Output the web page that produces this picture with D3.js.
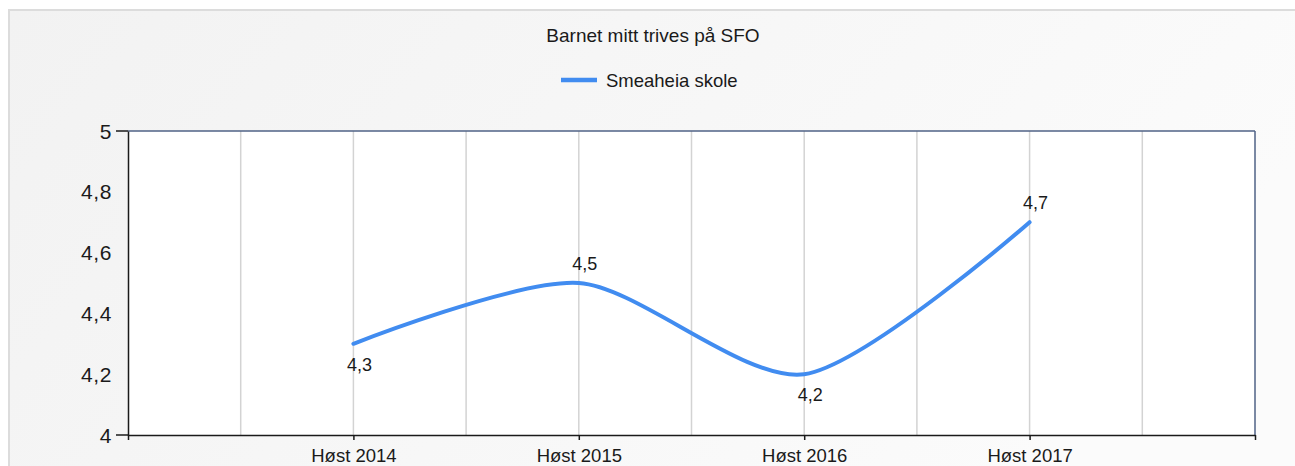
<!DOCTYPE html>
<html>
<head>
<meta charset="utf-8">
<script src="https://cdn.jsdelivr.net/npm/d3@7"></script>
<style>
  html, body { margin: 0; padding: 0; background: #ffffff; }
  svg { display: block; font-family: "Liberation Sans", Arial, sans-serif; }
</style>
</head>
<body>
<svg id="chart" width="1295" height="466"></svg>
<script>
const title = "Barnet mitt trives på SFO";
const seriesName = "Smeaheia skole";
const categories = ["Høst 2014", "Høst 2015", "Høst 2016", "Høst 2017"];
const values = [4.3, 4.5, 4.2, 4.7];
const yTicks = [4, 4.2, 4.4, 4.6, 4.8, 5];
const yMajorTicks = [4, 5];

const W = 1295, H = 466;
const plot = { left: 128, right: 1255, top: 131, bottom: 435 };
const lineColor = "#418cf0";
const fmt = v => d3.format(".1f")(v).replace(".", ",").replace(/,0$/, "");

const svg = d3.select("#chart");
const defs = svg.append("defs");
const grad = defs.append("linearGradient").attr("id", "bg")
  .attr("x1", "0%").attr("y1", "0%").attr("x2", "100%").attr("y2", "30%");
grad.append("stop").attr("offset", "0%").attr("stop-color", "#f2f2f2");
grad.append("stop").attr("offset", "100%").attr("stop-color", "#fbfbfb");

// panel
svg.append("rect").attr("x", 9).attr("y", 10).attr("width", W).attr("height", H)
  .attr("fill", "url(#bg)").attr("stroke", "#dcdcdc").attr("stroke-width", 2);

// scales
const x = d3.scaleLinear().domain([0, categories.length + 1]).range([plot.left, plot.right]);
const y = d3.scaleLinear().domain([4, 5]).range([plot.bottom, plot.top]);

// plot background
svg.append("rect").attr("x", plot.left).attr("y", plot.top)
  .attr("width", plot.right - plot.left).attr("height", plot.bottom - plot.top)
  .attr("fill", "#ffffff");

// vertical gridlines at half steps
const gridPos = d3.range(0.5, categories.length + 1, 0.5);
svg.append("g").selectAll("line").data(gridPos).join("line")
  .attr("x1", d => x(d)).attr("x2", d => x(d))
  .attr("y1", plot.top).attr("y2", plot.bottom)
  .attr("stroke", "#d3d3d3").attr("stroke-width", 1.5);

// top & right borders
svg.append("line").attr("x1", plot.left).attr("x2", plot.right)
  .attr("y1", plot.top).attr("y2", plot.top)
  .attr("stroke", "#4f6286").attr("stroke-width", 1.5);
svg.append("line").attr("x1", plot.right).attr("x2", plot.right)
  .attr("y1", plot.top).attr("y2", plot.bottom)
  .attr("stroke", "#4f6286").attr("stroke-width", 1.5);

// x axis
const xAxis = d3.axisBottom(x)
  .tickValues(d3.range(0, categories.length + 2))
  .tickFormat(d => (d >= 1 && d <= categories.length) ? categories[d - 1] : "")
  .tickSize(5).tickSizeOuter(0);
const gx = svg.append("g").attr("transform", `translate(0,${plot.bottom})`).call(xAxis);
gx.select(".domain").attr("stroke", "#1a1a1a").attr("stroke-width", 1.5);
gx.selectAll(".tick line").attr("stroke", "#1a1a1a").attr("stroke-width", 1.5);
gx.selectAll(".tick text").attr("font-size", "18.5px").attr("fill", "#1a1a1a")
  .attr("font-family", "Liberation Sans, Arial, sans-serif")
  .attr("dy", 0).attr("y", 27);

// y axis
const yAxis = d3.axisLeft(y).tickValues(yTicks).tickFormat(fmt).tickSize(0).tickPadding(16).tickSizeOuter(0);
const gy = svg.append("g").attr("transform", `translate(${plot.left},0)`).call(yAxis);
gy.select(".domain").attr("stroke", "#1a1a1a").attr("stroke-width", 1.5);
gy.selectAll(".tick text").attr("font-size", "21px").attr("fill", "#1a1a1a")
  .attr("font-family", "Liberation Sans, Arial, sans-serif")
  .attr("letter-spacing", "0.6px").attr("dy", "0.34em");
svg.append("g").selectAll("line").data(yMajorTicks).join("line")
  .attr("x1", plot.left - 12).attr("x2", plot.left)
  .attr("y1", d => y(d)).attr("y2", d => y(d))
  .attr("stroke", "#1a1a1a").attr("stroke-width", 1.5);

// line
const pts = values.map((v, i) => [x(i + 1), y(v)]);
svg.append("path").datum(pts)
  .attr("d", d3.line().curve(d3.curveCardinal.tension(0.2)))
  .attr("fill", "none").attr("stroke", lineColor).attr("stroke-width", 4)
  .attr("stroke-linecap", "round");

// data labels
const above = values.map((v, i) => {
  const ref = i > 0 ? values[i - 1] : values[i + 1];
  return i > 0 ? v >= ref : v > ref;
});
svg.append("g").selectAll("text").data(values).join("text")
  .attr("x", (d, i) => x(i + 1) + 6)
  .attr("y", (d, i) => above[i] ? y(d) - 13 : y(d) + 27)
  .attr("text-anchor", "middle").attr("font-size", "18px").attr("fill", "#1a1a1a")
  .text(d => fmt(d));

// title
svg.append("text").attr("x", 653).attr("y", 42).attr("text-anchor", "middle")
  .attr("font-size", "19px").attr("fill", "#1a1a1a").text(title);

// legend
svg.append("line").attr("x1", 561).attr("x2", 597).attr("y1", 80).attr("y2", 80)
  .attr("stroke", lineColor).attr("stroke-width", 4.5);
svg.append("text").attr("x", 606).attr("y", 86.5)
  .attr("font-size", "18.5px").attr("fill", "#1a1a1a").text(seriesName);
</script>
</body>
</html>
